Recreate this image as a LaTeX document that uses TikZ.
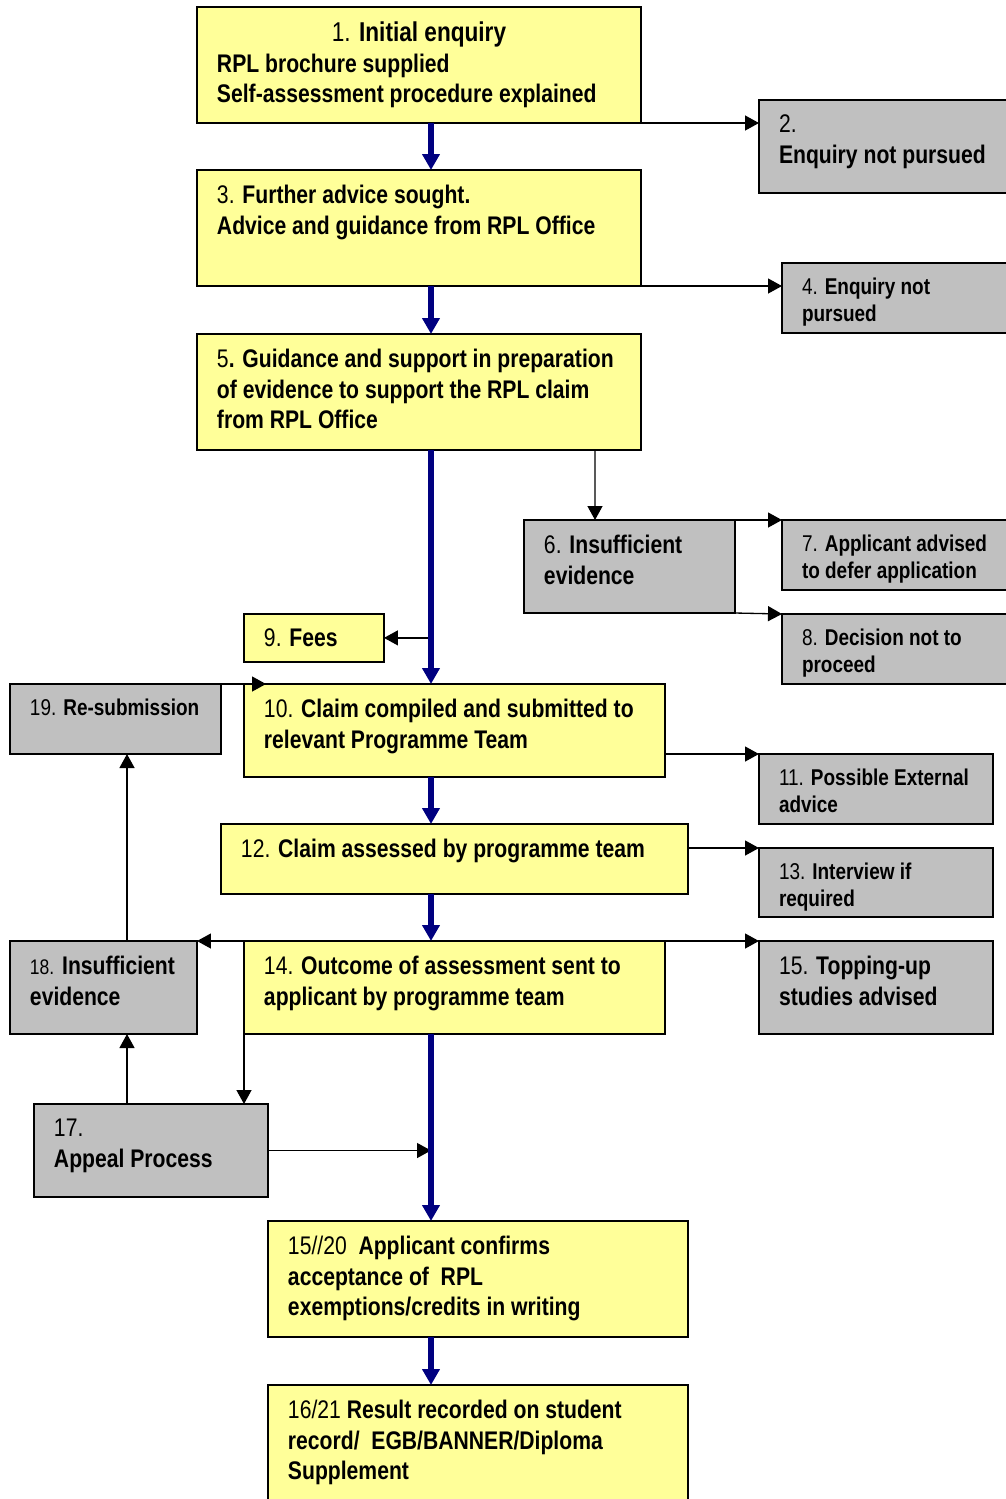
\documentclass[tikz,border=0pt]{standalone}
\usepackage{fontspec}
\setmainfont{Liberation Sans}[FakeStretch=0.83]
\usepackage{tikz}
\usetikzlibrary{arrows.meta}

\definecolor{boxyellow}{RGB}{255,255,153}
\definecolor{boxgrey}{RGB}{192,192,192}
\definecolor{trunkblue}{RGB}{0,0,128}

\newlength{\pxu}\setlength{\pxu}{0.02cm}
\newcommand{\boxtext}[3]{\parbox[t][\dimexpr#2\pxu-0.6cm\relax][t]{\dimexpr#1\pxu-0.8cm\relax}{\raggedright\hyphenpenalty=10000 #3}}
\newcommand{\stepno}[1]{{\mdseries #1}}
\newcommand{\boxfont}{\fontsize{14.5}{17.4}\selectfont\bfseries}
\newcommand{\smallboxfont}{\fontsize{13}{15.4}\selectfont\bfseries}

\begin{document}
\begin{tikzpicture}[x=0.02cm, y=-0.02cm]

\tikzstyle{box} = [
    rectangle, draw=black, line width=1.1pt, anchor=north west, outer sep=0pt, inner xsep=0.4cm, inner ysep=0.3cm, font=\boxfont]
\tikzstyle{ybox} = [box, fill=boxyellow]
\tikzstyle{gbox} = [box, fill=boxgrey]
\tikzstyle{mainline} = [color=trunkblue, line width=3pt, -{Triangle[length=0.32cm, width=0.34cm]}]
\tikzstyle{sideline} = [color=black, line width=0.75pt, -{Triangle[length=0.28cm, width=0.3cm]}]

\useasboundingbox (0,0) rectangle (1006,1499);

\coordinate (trunk) at (431,0);

\node[ybox] at (197,7) (enquiry) {\boxtext{444}{116}{\makebox[\linewidth]{\fontsize{15.5}{17.4}\selectfont\stepno{1.} Initial enquiry}\\RPL brochure supplied\\Self-assessment procedure explained}};

\node[gbox] at (759,100) (notpursued) {\boxtext{260}{93}{\stepno{2.}\\Enquiry not pursued}};

\node[ybox] at (197,170) (advice) {\boxtext{444}{116}{\stepno{3.} Further advice sought.\\Advice and guidance from RPL Office}};

\node[gbox, font=\smallboxfont] at (782,263) (dropped) {\boxtext{240}{70}{\stepno{4.} Enquiry not\\pursued}};

\node[ybox] at (197,334) (guidance) {\boxtext{444}{116}{\stepno{5}. Guidance and support in preparation\\of evidence to support the RPL claim\\from RPL Office}};

\node[gbox] at (524,520) (insuff) {\boxtext{211}{93}{\stepno{6.} Insufficient\\evidence}};

\node[gbox, font=\smallboxfont] at (782,520) (defer) {\boxtext{240}{70}{\stepno{7.} Applicant advised\\to defer application}};

\node[gbox, font=\smallboxfont] at (782,614) (decline) {\boxtext{240}{70}{\stepno{8.} Decision not to\\proceed}};

\node[ybox] at (244,614) (fees) {\boxtext{140}{46}{\stepno{9.} Fees}};

\node[gbox, font=\smallboxfont] at (10,684) (resubmit) {\boxtext{211}{70}{\mbox{\stepno{19.} Re-submission}}};

\node[ybox] at (244,684) (claim) {\boxtext{421}{93}{\stepno{10.} Claim compiled and submitted to\\relevant Programme Team}};

\node[gbox, font=\smallboxfont] at (759,754) (external) {\boxtext{234}{70}{\stepno{11.} Possible External\\advice}};

\node[ybox] at (221,824) (assessed) {\boxtext{467}{70}{\stepno{12.} Claim assessed by programme team}};

\node[gbox, font=\smallboxfont] at (759,848) (interview) {\boxtext{234}{69}{\stepno{13.} Interview if\\required}};

\node[gbox] at (10,941) (insuffb) {\boxtext{187}{93}{{\mdseries\fontsize{12}{17.4}\selectfont 18.} Insufficient\\evidence}};

\node[ybox] at (244,941) (outcome) {\boxtext{421}{93}{\stepno{14.} Outcome of assessment sent to\\applicant by programme team}};

\node[gbox] at (759,941) (topup) {\boxtext{234}{93}{\stepno{15.} Topping-up\\studies advised}};

\node[gbox] at (34,1104) (appeal) {\boxtext{234}{93}{\stepno{17.}\\Appeal Process}};

\node[ybox] at (268,1221) (confirm) {\boxtext{420}{116}{\stepno{15//20}\ \ Applicant confirms\\acceptance of\ \ RPL\\exemptions/credits in writing}};

\node[ybox] at (268,1385) (record) {\boxtext{420}{130}{\stepno{16/21} Result recorded on student\\record/\ \ EGB/BANNER/Diploma\\Supplement}};


\path[sideline]
  (enquiry.south east) edge (enquiry.south east -| notpursued.west)
  (advice.south east) edge (advice.south east -| dropped.west)
  ([xshift=176\pxu]guidance.south) edge ([xshift=71\pxu]insuff.north west)
  (insuff.north east) edge (defer.north west)
  (insuff.south east) edge (decline.north west)
  (trunk |- fees.east) edge (fees.east)
  (resubmit.north east) edge ([xshift=22\pxu]claim.north west)
  (claim.east |- external.north west) edge (external.north west)
  (assessed.east |- interview.north west) edge (interview.north west)
  (outcome.north east) edge (topup.north west)
  (outcome.north west) edge (insuffb.north east)
  ([xshift=117\pxu]insuffb.north west) edge ([xshift=117\pxu]resubmit.south west)
  (outcome.south west) edge (outcome.south west |- appeal.north)
  ([xshift=93\pxu]appeal.north west) edge ([xshift=117\pxu]insuffb.south west)
  (appeal.east) edge (appeal.east -| trunk)
;

\path[mainline]
  (enquiry.south -| trunk) edge (advice.north -| trunk)
  (advice.south -| trunk) edge (guidance.north -| trunk)
  (guidance.south -| trunk) edge (claim.north -| trunk)
  (claim.south -| trunk) edge (assessed.north -| trunk)
  (assessed.south -| trunk) edge (outcome.north -| trunk)
  (outcome.south -| trunk) edge (confirm.north -| trunk)
  (confirm.south -| trunk) edge (record.north -| trunk)
;

\end{tikzpicture}
\end{document}
